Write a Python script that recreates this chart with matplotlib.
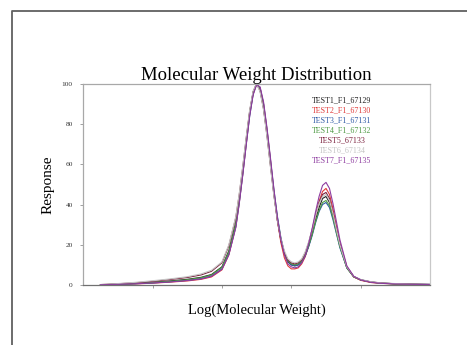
import matplotlib.pyplot as plt
from matplotlib.lines import Line2D

# log(MW) positions (arbitrary axis units, 0-100) and responses for each run
log_mw = [5, 10, 15, 20, 25, 30, 34, 37, 40, 42, 44, 45, 46, 47, 48, 49, 50,
          51, 52, 53, 54, 55, 56, 57, 58, 59, 60, 61, 62, 63, 64, 65, 66, 67,
          68, 69, 70, 71, 72, 73, 74, 76, 78, 80, 83, 86, 90, 95, 100]

test1 = [0.1, 0.4, 0.8, 1.3, 2.0, 2.8, 3.8, 5.2, 9, 17, 31, 43, 57, 72, 86, 96, 100,
         97, 88, 75, 60, 45, 32, 22, 15.5, 11.5, 10, 9.5, 10, 11.5, 14.5, 19.5, 25.5, 32.5,
         38.5, 43, 44, 41, 34.5, 27, 19.5, 8.5, 4, 2.5, 1.4, 0.9, 0.6, 0.3, 0.2]
test2 = [0.1, 0.3, 0.5, 0.9, 1.4, 2.0, 2.8, 4.0, 7.5, 15, 29, 41, 55, 70, 85, 95, 100,
         98, 90, 77, 62, 46, 32, 21, 13.5, 9.5, 8, 8, 8.5, 10.5, 14, 19.5, 26.5, 34.5,
         41.5, 46.5, 48, 45, 38, 29.5, 21, 9, 4, 2.3, 1.2, 0.8, 0.5, 0.3, 0.2]
test3 = [0.1, 0.3, 0.6, 1.0, 1.6, 2.3, 3.2, 4.5, 8, 15.5, 29, 41, 55, 70, 84, 95, 100,
         98, 90, 77, 62, 47, 34, 23.5, 16, 12, 10, 9.5, 10, 11.5, 14.5, 19, 24.5, 31,
         36.5, 40, 41, 38.5, 32.5, 25.5, 18.5, 8.5, 4.2, 2.6, 1.5, 0.9, 0.6, 0.4, 0.3]
test4 = [0.1, 0.4, 0.7, 1.2, 1.8, 2.6, 3.6, 5.0, 8.8, 16.5, 30.5, 42.5, 56.5, 71.5, 85.5, 95.5, 100,
         97, 88.5, 75.5, 60.5, 45.5, 33, 23, 16, 12, 10.5, 10, 10.5, 12, 15, 19.5, 25, 31.5,
         37, 41, 42, 39.5, 33.5, 26, 19, 8.5, 4, 2.5, 1.4, 0.9, 0.5, 0.3, 0.2]
test5 = [0.2, 0.6, 1.1, 1.8, 2.7, 3.7, 5.0, 6.8, 11, 19.5, 33.5, 45, 58.5, 73, 86.5, 96, 100,
         96.5, 87.5, 74, 59, 44.5, 32, 22.5, 16, 12.5, 11, 10.5, 11, 12.5, 16, 21, 27.5, 35,
         41, 45, 46, 43, 36, 28, 20.5, 9, 4.2, 2.6, 1.5, 1.0, 0.6, 0.4, 0.3]
test6 = [0.2, 0.7, 1.3, 2.1, 3.0, 4.1, 5.5, 7.3, 11.5, 20, 34, 45.5, 59, 73.5, 87, 96.5, 100,
         96, 87, 73.5, 58.5, 44, 32, 23, 17, 13, 11.5, 11, 11.5, 13, 16.5, 21.5, 27.5, 34.5,
         40.5, 44, 45, 42, 35.5, 27.5, 20, 9, 4.3, 2.7, 1.6, 1.0, 0.7, 0.4, 0.3]
test7 = [0.1, 0.3, 0.6, 1.0, 1.5, 2.2, 3.0, 4.3, 7.8, 15, 28.5, 40.5, 54.5, 69.5, 84, 94.5, 99.5,
         98.5, 91, 78, 63, 47.5, 33.5, 22.5, 15, 10.5, 9, 8.5, 9, 11, 14.5, 20.5, 28, 36.5,
         44, 49.5, 51, 48, 40.5, 31.5, 22.5, 9.5, 4.3, 2.5, 1.3, 0.8, 0.5, 0.3, 0.2]

labels = ["TEST1_F1_67129", "TEST2_F1_67130", "TEST3_F1_67131", "TEST4_F1_67132",
          "TEST5_67133", "TEST6_67134", "TEST7_F1_67135"]
colors = ["#202020", "#e03a3a", "#2f5aa6", "#4e9a44", "#7a1f3c", "#c4c4c4", "#8e3ca0"]
series = [test1, test2, test3, test4, test5, test6, test7]

y_ticks = [0, 20, 40, 60, 80, 100]
x_ticks = [20, 40, 60, 80]

serif = ["Liberation Serif", "DejaVu Serif"]

fig = plt.figure(figsize=(4.67, 3.45), dpi=100)
ax = fig.add_axes([0.178, 0.174, 0.743, 0.583])

for ys, c in zip(series, colors):
    ax.plot(log_mw, ys, color=c, lw=0.8)

ax.set_xlim(0, 100)
ax.set_ylim(0, 100)
ax.set_yticks(y_ticks)
ax.set_yticklabels([str(v) for v in y_ticks], fontsize=5.3, family=serif, color="#333333")
ax.set_xticks(x_ticks)
ax.set_xticklabels([])
ax.tick_params(axis="y", length=2.5, width=0.6, color="#909090", pad=5)
ax.tick_params(axis="x", length=2, width=0.6, color="#909090")

for side in ["left", "top", "right"]:
    ax.spines[side].set_color("#a8a8a8")
    ax.spines[side].set_linewidth(0.9)
ax.spines["right"].set_color("#c8c8c8")
ax.spines["bottom"].set_color("#707070")
ax.spines["bottom"].set_linewidth(0.9)

ax.set_title("Molecular Weight Distribution", fontsize=13.5, family=serif, pad=1)
ax.set_ylabel("Response", fontsize=11, family=serif, labelpad=5)
ax.set_xlabel("Log(Molecular Weight)", fontsize=10.5, family=serif, labelpad=8)

for i, (lab, c) in enumerate(zip(labels, colors)):
    ax.text(0.746, 0.92 - i * 0.05, lab, color=c, fontsize=5.8, family=serif,
            ha="center", va="center", transform=ax.transAxes)

# outer frame of the screenshot
fig.add_artist(Line2D([0.0257, 0.0257, 1.0], [0.0, 0.968, 0.968],
                      transform=fig.transFigure, color="#606060", lw=1.3))

fig.savefig("out.png", dpi=100)
